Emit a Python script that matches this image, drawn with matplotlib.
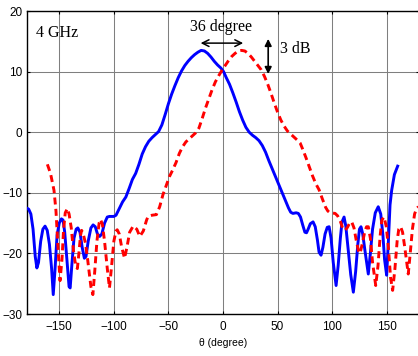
import numpy as np
import matplotlib
matplotlib.use('Agg')
import matplotlib.pyplot as plt

# blue solid curve (theta in degree, gain in dB)
blue_theta = [-180, -178, -176, -174, -172, -170.5, -169, -167, -165, -163, -161, -159, -157, -155.5,
              -154, -152, -150, -148, -146.5, -145, -143, -141, -140, -138.5, -136.5, -134.5, -133,
              -131, -129, -127, -125.5, -123.5, -121, -119, -117, -115, -113, -111, -108.5, -106,
              -104, -100, -98, -95, -92, -89, -86, -83, -80, -77, -74, -71, -68, -65, -62, -59, -56,
              -53, -50, -47, -44, -41, -38, -35, -32, -29, -26, -23, -20, -17, -14, -11, -8, -5, -2,
              0.5, 3, 6, 9, 12, 15, 18, 21, 24, 27, 30, 33, 36, 39, 42, 45, 48, 51, 54, 57, 60, 62,
              64, 67, 69, 71, 73, 75, 76.5, 78, 80, 82.5, 84.5, 86.5, 88, 89.8, 91.5, 93.5, 95.5,
              97.2, 99, 101, 103.6, 105.5, 107.5, 109, 110.9, 112.5, 114.5, 117, 119.4, 121.5,
              123.5, 125, 126.4, 128, 130, 133.1, 135, 137, 139.5, 142.2, 144.5, 146.5, 148, 149.9,
              151.5, 153, 154.5, 157, 160]
blue_gain = [-12.5, -12.7, -13.5, -16, -20.5, -22.4, -21.5, -18, -16, -15.5, -16.2, -18.5, -22.5, -26.8,
             -23, -17, -15, -14.3, -14.5, -16.5, -21, -25.5, -25.7, -22, -17.5, -16, -15.8,
             -16.5, -19, -20.8, -20.5, -18, -15.8, -15.3, -15.6, -16.8, -17.2, -16.8, -15, -14,
             -13.9, -13.9, -13.7, -12.6, -11.5, -10.7, -9.3, -7.8, -6.8, -5.3, -3.6, -2.4, -1.5, -0.9, -0.4, 0.1, 1.2,
             2.9, 4.7, 6.3, 7.7, 9.0, 10.1, 11.0, 11.7, 12.3, 12.8, 13.2, 13.5, 13.4, 13.0, 12.4, 11.7, 11.1, 10.6,
             10.0, 9.0, 7.9, 6.5, 5.0, 3.4, 2.0, 0.8, 0.0, -0.5, -0.9, -1.4, -2.2, -3.3, -4.7, -6.0, -7.3, -8.6, -9.9, -11.2, -12.5, -13.2,
             -13.4, -13.3, -13.4, -14.0, -15.3, -16.5, -16.6, -16.0, -15.1, -14.8, -15.6, -17.8, -19.8, -20.3, -19, -16.8, -15.7,
             -15.6, -17.5, -21.5, -25.3, -22, -17.5, -14.8, -14.0, -15.5, -19, -23.5, -26.4, -23,
             -18.5, -16, -15.6, -16.8, -19.5, -23.4, -20, -16, -13.3, -12.3, -13.5, -17, -21, -23.6,
             -18, -12, -9.6, -7.0, -5.6]

# red dashed curve
red_theta = [-160.9, -158, -156, -154.8, -153, -151, -149.3, -147.5, -146, -144.5, -142.6, -141, -139,
             -137, -135, -133.4, -132, -130.5, -129.5, -128, -126, -124, -121, -119.2, -117.5, -115.5,
             -113.5, -112.2, -110.5, -108.5, -106, -104, -102, -100, -98, -96.9, -95, -93, -90.2, -88,
             -85.5, -82.3, -79, -76.2, -73, -70, -68.6, -65, -61, -58, -55, -52, -49, -46, -43, -40,
             -37, -34, -31, -28, -25, -22, -19, -16, -13, -10, -7, -4, -1, 2, 5, 8, 11, 14, 17, 20,
             23, 26, 29, 32, 35, 38, 41, 44, 47, 50, 53, 56, 59, 62, 65, 68, 70.7, 73, 76, 79, 82,
             85, 88, 91, 94, 96, 98, 102.7, 105, 107.5, 109.5, 111.8, 114, 116, 117.9, 120, 122,
             124, 125.5, 127.5, 130, 131.5, 133.1, 135, 137, 139.9, 142, 144, 145.5, 147.5, 149.5,
             151.5, 153.5, 155.4, 157.5, 159.5, 161, 162.7, 164.5, 166.5, 169.7, 171.5, 173.5,
             175.5, 177.3, 179]
red_gain = [-5.3, -6.8, -8.5, -9.6, -13, -19.5, -24.5, -21, -16, -13.3, -12.6, -13.5, -15.8,
            -19.5, -22, -22.5, -20, -17, -16.2, -16.8, -18.3, -21, -25.5, -26.8, -23, -18,
            -15, -14.4, -15.2, -18, -22.5, -25.7, -22, -18, -16.3, -16.1, -16.8, -18.8, -20.8, -19,
            -16.5, -15.5, -16, -17.2, -16.3, -14.5, -13.9, -13.7, -13.6, -12.3, -10.3, -8.8, -7.3, -6.2, -5.0, -3.5,
            -2.4, -1.6, -1.1, -0.6, -0.1, 0.7, 2.3, 4.0, 5.5, 7.0, 8.3, 9.3, 10.2, 11.0, 11.8, 12.5, 13.0, 13.4, 13.5, 13.4,
            13.0, 12.4, 11.7, 11.0, 10.3, 9.2, 7.9, 6.4, 4.8, 3.3, 2.0, 1.0, 0.2, -0.3, -0.8, -1.3, -1.8, -2.8, -4.2, -5.7, -7.2,
            -8.5, -9.5, -11.0, -12.4, -13.0, -13.3, -13.4, -13.8, -14.7, -15.8, -16.2, -15.7, -15.0, -14.8, -15.8, -17.8,
            -19.5, -20.0, -18.5, -16.3, -15.6, -15.6, -17.5, -21.5, -25.3, -22, -17, -14.5, -14.0, -15.5,
            -19, -24, -26.1, -22.5, -18, -16, -15.6, -16.5, -19, -23.4, -20, -16,
            -13.5, -12.6, -12.3]

x_ticks = [-150, -100, -50, 0, 50, 100, 150]
y_ticks = [-30, -20, -10, 0, 10, 20]

fig = plt.figure(figsize=(4.18, 3.56), dpi=100)
ax = fig.add_axes([26.5 / 418, 1 - 314 / 356, (419.5 - 26.5) / 418, (314 - 11) / 356])

ax.plot(blue_theta, blue_gain, color='#0000ff', lw=2.1, zorder=3)
ax.plot(red_theta, red_gain, color='#ff0000', lw=2.1, ls=(0, (2.4, 1.5)), zorder=3)

ax.set_xlim(-180, 180)
ax.set_ylim(-30, 20)
ax.set_xticks(x_ticks)
ax.set_yticks(y_ticks)
ax.grid(True, color='#7f7f7f', lw=0.75)
ax.tick_params(direction='in', length=2.5, width=0.8, top=True, right=True,
               labelsize=8.5, colors='black')
ax.tick_params(axis='x', pad=5)
ax.tick_params(axis='y', pad=3)
for lab in ax.get_xticklabels() + ax.get_yticklabels():
    lab.set_family('Liberation Sans')
for s in ax.spines.values():
    s.set_linewidth(1.0)

ax.set_xlabel('θ (degree)', fontsize=7.5, family='Liberation Sans', labelpad=4)

# annotations
serif = 'Liberation Serif'
ax.text(-151.5, 16.4, '4 GHz', fontsize=11.5, family=serif, ha='center', va='center')
ax.text(-2.2, 17.3, '36 degree', fontsize=11.5, family=serif, ha='center', va='center')
ax.text(66, 13.8, '3 dB', fontsize=11.5, family=serif, ha='center', va='center')
ax.annotate('', xy=(-20.5, 14.7), xytext=(18.5, 14.7),
            arrowprops=dict(arrowstyle='<->', color='black', lw=1.1,
                            shrinkA=0, shrinkB=0, mutation_scale=12))
ax.annotate('', xy=(41.4, 15.4), xytext=(41.4, 9.6),
            arrowprops=dict(arrowstyle='<|-|>', color='black', lw=1.2,
                            shrinkA=0, shrinkB=0, mutation_scale=10))

fig.savefig('out.png', dpi=100)
